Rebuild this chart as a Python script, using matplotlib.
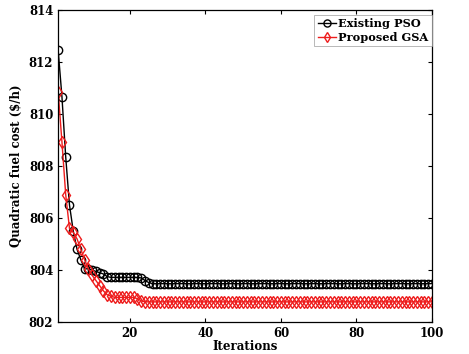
import matplotlib
matplotlib.use('Agg')
import matplotlib.pyplot as plt
import numpy as np

plt.rcParams['font.family'] = 'DejaVu Serif'
plt.rcParams['font.weight'] = 'bold'
plt.rcParams['font.size'] = 8.5

# ---- data ----
iterations = np.arange(1, 101)

pso_head = [812.45, 810.67, 808.35, 806.5, 805.5, 804.8, 804.4, 804.05, 804.05, 804.0,
            803.95, 803.9, 803.85, 803.75, 803.72, 803.72, 803.72, 803.72, 803.72, 803.72,
            803.72, 803.72, 803.7, 803.6, 803.52]
pso_tail = [803.48] * 75
existing_pso = pso_head + pso_tail

gsa_head = [810.86, 808.93, 806.9, 805.6, 805.45, 805.2, 804.8, 804.4, 804.05, 803.8,
            803.6, 803.4, 803.2, 803.05, 803.0, 802.95, 802.95, 802.95, 802.95, 802.95,
            802.95, 802.9, 802.82]
gsa_tail = [802.78] * 77
proposed_gsa = gsa_head + gsa_tail

fig = plt.figure(figsize=(4.69, 3.54), dpi=100)
ax = fig.add_axes([0.124, 0.090, 0.797, 0.882])

ax.plot(iterations, existing_pso, color='black', lw=1.0, marker='o', ms=6,
        mfc='none', mec='black', mew=1.0, label='Existing PSO')
ax.plot(iterations, proposed_gsa, color='#ee1c1c', lw=1.0, marker='d', ms=6.2,
        mfc='none', mec='#ee1c1c', mew=1.0, label='Proposed GSA')

ax.set_xlim(1, 100)
ax.set_ylim(802, 814)
ax.set_xticks([20, 40, 60, 80, 100])
ax.set_yticks([802, 804, 806, 808, 810, 812, 814])
ax.tick_params(direction='in', top=True, right=True, length=3, width=0.8)
for s in ax.spines.values():
    s.set_linewidth(0.9)

ax.set_xlabel('Iterations', fontweight='bold', labelpad=0)
ax.set_ylabel(r'Quadratic fuel cost (\$/h)', fontweight='bold', labelpad=4)

leg = ax.legend(loc='upper right', bbox_to_anchor=(1.0, 0.985), frameon=True,
                fancybox=False, edgecolor='#999999', borderpad=0.3,
                handlelength=1.6, handletextpad=0.2, labelspacing=0.25,
                borderaxespad=0, fontsize=8.2, markerscale=0.85)
leg.get_frame().set_linewidth(0.6)

plt.savefig('out.png', dpi=100, facecolor='white')
plt.close()
